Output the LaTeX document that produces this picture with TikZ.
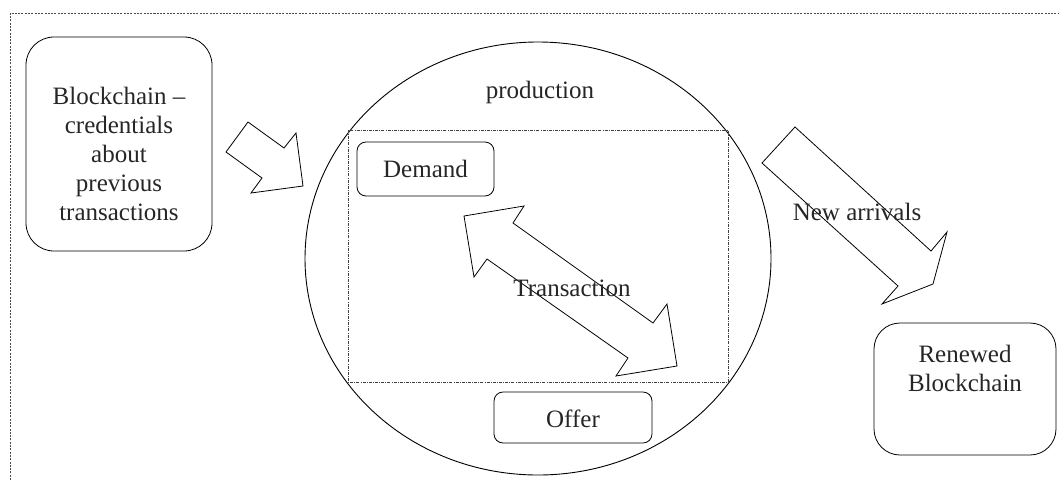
\documentclass[tikz,border=0pt]{standalone}
\usepackage{fontspec}
\setmainfont{Liberation Serif}
\usetikzlibrary{shapes.geometric}
\begin{document}
\begin{tikzpicture}[x=1pt,y=-1pt,
  lbl/.style={inner sep=0pt,align=center,font=\fontsize{25}{29}\selectfont,text=black!85},
  rbox/.style={draw,line width=0.8pt,rounded corners=#1,inner sep=0pt},
  blockarrow/.style={draw,line width=0.8pt,line join=miter},
  frame/.style={draw=black!70,line width=0.7pt,dash pattern=on 2pt off 1.3pt},
  inner/.style={draw=black!75,line width=0.6pt,dash pattern=on 3pt off 1.2pt on 0.8pt off 1.2pt}]
\useasboundingbox (0,0) rectangle (1059,480);
% outer dotted frame (clipped at the right and bottom)
\draw[frame] (10,480) -- (10,13) -- (1059,13);
% left box
\node[rbox=28pt,minimum width=186pt,minimum height=214pt] (bc) at (119,144) {};
\node[lbl] (bctext) at ([yshift=-9.5pt]bc.center) {Blockchain –\\credentials\\about\\previous\\transactions};
% production ellipse
\node[draw,ellipse,line width=0.9pt,minimum width=466pt,minimum height=433pt,inner sep=0pt] (prod) at (538,258.5) {};
\node[lbl] (prodtext) at (540,92) {production};
% inner dash-dot rectangle
\draw[inner] (348,130) rectangle (728,382);
% demand and offer
\node[rbox=9pt,minimum width=137pt,minimum height=54pt] (demand) at (425.5,169) {};
\node[lbl] (demandtext) at (demand.center) {Demand};
\node[rbox=9pt,minimum width=158pt,minimum height=51pt] (offer) at (573,417.5) {};
\node[lbl] (offertext) at (573,419) {Offer};
% renewed blockchain
\node[rbox=26pt,minimum width=182pt,minimum height=132pt] (renew) at (965,389) {};
\node[lbl] (renewtext) at ([yshift=20.5pt]renew.center) {Renewed\\Blockchain};
% left block arrow
\draw[blockarrow] (226,152) -- (248,122) -- (284,148) -- (296,133) -- (303,186) -- (251,193) -- (262,178) -- cycle;
% transaction double arrow
\draw[blockarrow] (464,216) -- (524,206) -- (513,223) -- (653,323) -- (667,304) -- (677,366) -- (616,376) -- (628,358) -- (487,259) -- (474,277) -- cycle;
\node[lbl] (trans) at (572,288) {Transaction};
% new arrivals arrow
\draw[blockarrow] (795,127) -- (931,251) -- (947,232) -- (933,284) -- (882,304) -- (898,286) -- (762,163) -- cycle;
\node[lbl] (newarr) at (857,212) {New arrivals};
\end{tikzpicture}
\end{document}
